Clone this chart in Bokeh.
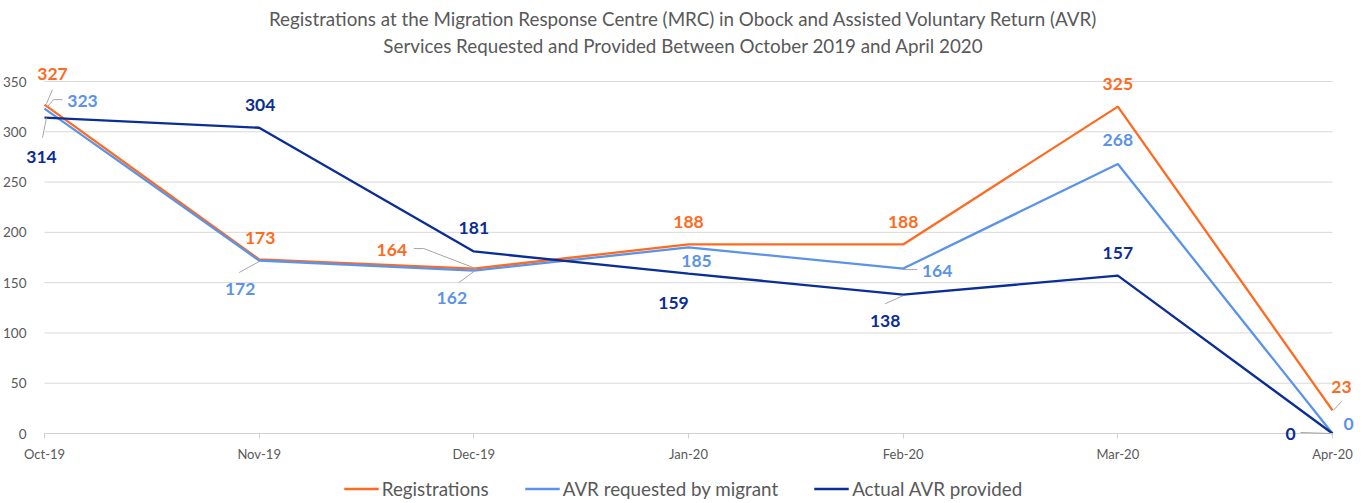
from bokeh.plotting import figure
from bokeh.models import (ColumnDataSource, LabelSet, Legend, LegendItem, Title,
                          FixedTicker, Range1d, Arrow)
from bokeh.core.properties import value
from bokeh.embed import file_html
from bokeh.resources import INLINE

# ---------------- data ----------------
months = ["Oct-19", "Nov-19", "Dec-19", "Jan-20", "Feb-20", "Mar-20", "Apr-20"]
registrations = [327, 173, 164, 188, 188, 325, 23]
avr_requested = [323, 172, 162, 185, 164, 268, 0]
avr_provided = [314, 304, 181, 159, 138, 157, 0]
series_names = ["Registrations", "AVR requested by migrant", "Actual AVR provided"]
title_line1 = "Registrations at the Migration Response Centre (MRC) in Obock and Assisted Voluntary Return (AVR)"
title_line2 = "Services Requested and Provided Between October 2019 and April 2020"
y_ticks = [0, 50, 100, 150, 200, 250, 300, 350]

# ---------------- style / layout ----------------
FONT = "Lato"
GREY = "#595959"
colors = ["#FF6A21", "#5B93E8", "#0B2D96"]
W, H = 1366, 503
TOP = 57                      # height of the title panel
FW, FH = W, H - TOP           # frame size
# where the plot area (first/last month, 0 and 350) sits inside the frame, in px
PX_LEFT, PX_RIGHT = 44, 1332
PX_Y0, PX_Y350 = 433 - TOP, 81 - TOP   # from the frame top

n = len(months)
px_x = (PX_RIGHT - PX_LEFT) / (n - 1)
px_y = (PX_Y0 - PX_Y350) / 350.0
x_start = -PX_LEFT / px_x
x_end = (n - 1) + (FW - PX_RIGHT) / px_x
y_end = 350 + PX_Y350 / px_y
y_start = -(FH - PX_Y0) / px_y

# label offsets in px (dx right, dy up)
label_offsets = [
    [(8, 31), (1, 22), (-82, 19), (0, 22), (0, 22), (0, 23), (9, 23)],
    [(38, 8), (-19, -28), (-22, -27), (8, -14), (34, -2), (0, 24), (16, 10)],
    [(-3, -39), (1, 23), (0, 23), (-15, -29), (-18, -26), (0, 23), (-42, 0)],
]
# leader lines: (series, point index, [(dx0, dy0, dx1, dy1), ...]) in px
leaders = [
    (0, 0, [(2, 1, 8, 15)]),
    (0, 2, [(2, 0, -50, 20), (-50, 20, -60, 20)]),
    (0, 6, [(1, 0, 9, 9)]),
    (1, 0, [(3, 2, 9, 9), (9, 9, 18, 9)]),
    (1, 1, [(0, -1, -20, -12)]),
    (1, 2, [(0, -1, -15, -12)]),
    (1, 4, [(0, -1, 14, -1)]),
    (2, 0, [(2, 0, -2, -20)]),
    (2, 4, [(0, -1, -18, -9)]),
    (2, 6, [(-2, 0, -32, 1)]),
]

xs = list(range(n))
all_series = [registrations, avr_requested, avr_provided]

p = figure(width=W, height=H,
           x_range=Range1d(x_start, x_end), y_range=Range1d(y_start, y_end),
           output_backend="svg", toolbar_location=None,
           min_border_left=0, min_border_right=0, min_border_top=TOP, min_border_bottom=0,
           outline_line_color=None, background_fill_color="white", border_fill_color="white")

p.add_layout(Title(text=title_line2, align="center", text_font=FONT, text_font_size="18.8px",
                   text_font_style="normal", text_color=GREY, standoff=2), "above")
p.add_layout(Title(text=title_line1, align="center", text_font=FONT, text_font_size="18.8px",
                   text_font_style="normal", text_color=GREY, standoff=1), "above")

# axes (drawn at the data origin, take no panel space)
p.xaxis.fixed_location = 0
p.xaxis.bounds = (0, n - 1)
p.xaxis.ticker = FixedTicker(ticks=xs)
p.xaxis.major_label_overrides = {i: m for i, m in enumerate(months)}
p.xaxis.axis_line_color = "#D0D0D0"
p.xaxis.major_tick_line_color = "#D0D0D0"
p.xaxis.major_tick_out = 5
p.xaxis.major_tick_in = 0
p.xaxis.minor_tick_line_color = None
p.xaxis.major_label_standoff = 7
p.xaxis.major_label_text_font = FONT
p.xaxis.major_label_text_font_size = "13px"
p.xaxis.major_label_text_color = GREY

p.yaxis.fixed_location = 0
p.yaxis.ticker = FixedTicker(ticks=y_ticks)
p.yaxis.axis_line_color = None
p.yaxis.major_tick_line_color = None
p.yaxis.minor_tick_line_color = None
p.yaxis.major_label_standoff = 12
p.yaxis.major_label_text_font = FONT
p.yaxis.major_label_text_font_size = "13.5px"
p.yaxis.major_label_text_color = GREY

p.xgrid.grid_line_color = None
p.ygrid.grid_line_color = None
# horizontal gridlines limited to the plot area
p.segment(x0=[0] * len(y_ticks), x1=[n - 1] * len(y_ticks), y0=y_ticks, y1=y_ticks,
          line_color="#D9D9D9", line_width=1)

# lines
renderers = []
for vals, col in zip(all_series, colors):
    r = p.line(xs, vals, line_color=col, line_width=2.3)
    renderers.append(r)

# leader lines
x0s, y0s, x1s, y1s = [], [], [], []
for s, i, segs in leaders:
    for dx0, dy0, dx1, dy1 in segs:
        x0s.append(xs[i] + dx0 / px_x)
        y0s.append(all_series[s][i] + dy0 / px_y)
        x1s.append(xs[i] + dx1 / px_x)
        y1s.append(all_series[s][i] + dy1 / px_y)
lsrc = ColumnDataSource(dict(x0=x0s, y0=y0s, x1=x1s, y1=y1s))
p.add_layout(Arrow(end=None, x_start="x0", y_start="y0", x_end="x1", y_end="y1",
                   source=lsrc, line_color="#A6A6A6", line_width=1))

# data labels
for vals, col, offs in zip(all_series, colors, label_offsets):
    src = ColumnDataSource(dict(x=xs, y=vals, t=[str(v) for v in vals],
                                dx=[o[0] for o in offs], dy=[o[1] for o in offs]))
    p.add_layout(LabelSet(x="x", y="y", text="t", source=src, x_offset="dx", y_offset="dy",
                          text_align="center", text_baseline="middle", text_color=col,
                          text_font=value(FONT), text_font_size="17.5px", text_font_style="bold"))

legend = Legend(items=[LegendItem(label=nm, renderers=[r]) for nm, r in zip(series_names, renderers)],
                orientation="horizontal", location="bottom_center", spacing=36, glyph_width=35,
                glyph_height=19, label_height=19, label_standoff=3, padding=0, margin=3,
                border_line_color=None, background_fill_alpha=0,
                label_text_font=FONT, label_text_font_size="18.8px", label_text_color=GREY)
p.add_layout(legend, "center")

open("out.html", "w").write(file_html(p, INLINE))
